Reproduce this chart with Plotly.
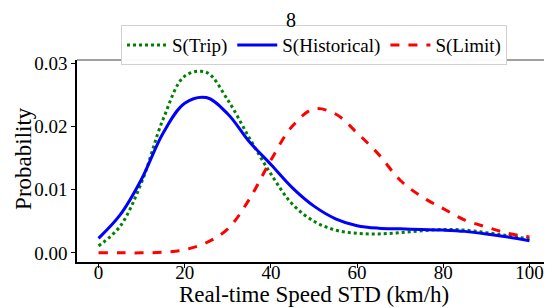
import plotly.graph_objects as go

x_vals = [0, 5, 10, 15, 20, 25, 30, 35, 40, 45, 50, 55, 60, 65, 70, 75, 80, 85, 90, 95, 100]
s_trip = [0.0011, 0.0042, 0.0112, 0.0212, 0.0280, 0.0286, 0.0242, 0.0182, 0.0125, 0.0077, 0.0050,
          0.0036, 0.0031, 0.0030, 0.0032, 0.0035, 0.0037, 0.0036, 0.0032, 0.0027, 0.0022]
s_hist = [0.0023, 0.0060, 0.0117, 0.0190, 0.0237, 0.0246, 0.0220, 0.0176, 0.0140, 0.0103, 0.0074,
          0.0054, 0.0043, 0.0039, 0.0038, 0.0037, 0.0036, 0.0034, 0.0030, 0.0025, 0.0019]
s_limit = [0.0000, 0.0000, 0.0000, 0.0001, 0.0005, 0.0016, 0.0038, 0.0085, 0.0147, 0.0201, 0.0228,
           0.0220, 0.0190, 0.0156, 0.0115, 0.0089, 0.0070, 0.0052, 0.0041, 0.0031, 0.0025]

x_ticks = [0, 20, 40, 60, 80, 100]
y_ticks = [0.00, 0.01, 0.02, 0.03]
y_tick_text = ["0.00", "0.01", "0.02", "0.03"]

FONT = "Liberation Serif"

fig = go.Figure()
fig.add_trace(go.Scatter(x=x_vals, y=s_trip, mode="lines", name="S(Trip)",
                         line=dict(color="green", width=3, dash="dot", shape="spline", smoothing=1.0)))
fig.add_trace(go.Scatter(x=x_vals, y=s_hist, mode="lines", name="S(Historical)",
                         line=dict(color="blue", width=3, shape="spline", smoothing=1.0)))
fig.add_trace(go.Scatter(x=x_vals, y=s_limit, mode="lines", name="S(Limit)",
                         line=dict(color="red", width=3, dash="dash", shape="spline", smoothing=1.0)))

# page body has an 8px margin, so the figure is 8px smaller and shifted
fig.update_layout(
    width=544, height=300,
    margin=dict(l=69, r=1, t=52, b=46, autoexpand=False),
    paper_bgcolor="white", plot_bgcolor="white",
    font=dict(family=FONT, color="black"),
    showlegend=True,
    legend=dict(orientation="h", x=0.5, xanchor="center", y=1.074, yanchor="middle",
                font=dict(size=19, family=FONT, color="black"),
                bgcolor="rgba(255,255,255,0.95)", bordercolor="#d0d0d0", borderwidth=1,
                itemwidth=40, tracegroupgap=0),
    xaxis=dict(range=[-5, 105], tickvals=x_ticks, ticktext=[str(v) for v in x_ticks],
               showgrid=False, zeroline=False, showline=True, linecolor="black", linewidth=1.5,
               ticks="outside", ticklen=4, tickcolor="black", ticklabelstandoff=-12,
               tickfont=dict(size=19, family=FONT, color="black")),
    yaxis=dict(range=[-0.00145, 0.03055], tickvals=y_ticks, ticktext=y_tick_text,
               showgrid=False, zeroline=False, showline=True, linecolor="black", linewidth=1.5,
               ticks="outside", ticklen=4, tickcolor="black",
               tickfont=dict(size=19, family=FONT, color="black")),
)

fig.add_annotation(text="8", xref="paper", yref="paper", x=0.451, y=1.2,
                   xanchor="center", yanchor="middle", showarrow=False,
                   font=dict(size=20, family=FONT, color="black"))
fig.add_annotation(text="Real-time Speed STD (km/h)", xref="paper", yref="paper", x=0.5, y=-0.16,
                   xanchor="center", yanchor="middle", showarrow=False,
                   font=dict(size=23, family=FONT, color="black"))
fig.add_annotation(text="Probability", xref="paper", yref="paper", x=-0.112, y=0.515,
                   xanchor="center", yanchor="middle", showarrow=False, textangle=-90,
                   font=dict(size=23, family=FONT, color="black"))

fig.add_shape(type="line", xref="paper", yref="paper", x0=0, x1=1, y0=1, y1=1,
              line=dict(color="#808080", width=1.5), layer="below")
fig.add_shape(type="line", xref="paper", yref="paper", x0=1, x1=1, y0=0, y1=1,
              line=dict(color="black", width=1.5))

fig.write_html("out.html")
